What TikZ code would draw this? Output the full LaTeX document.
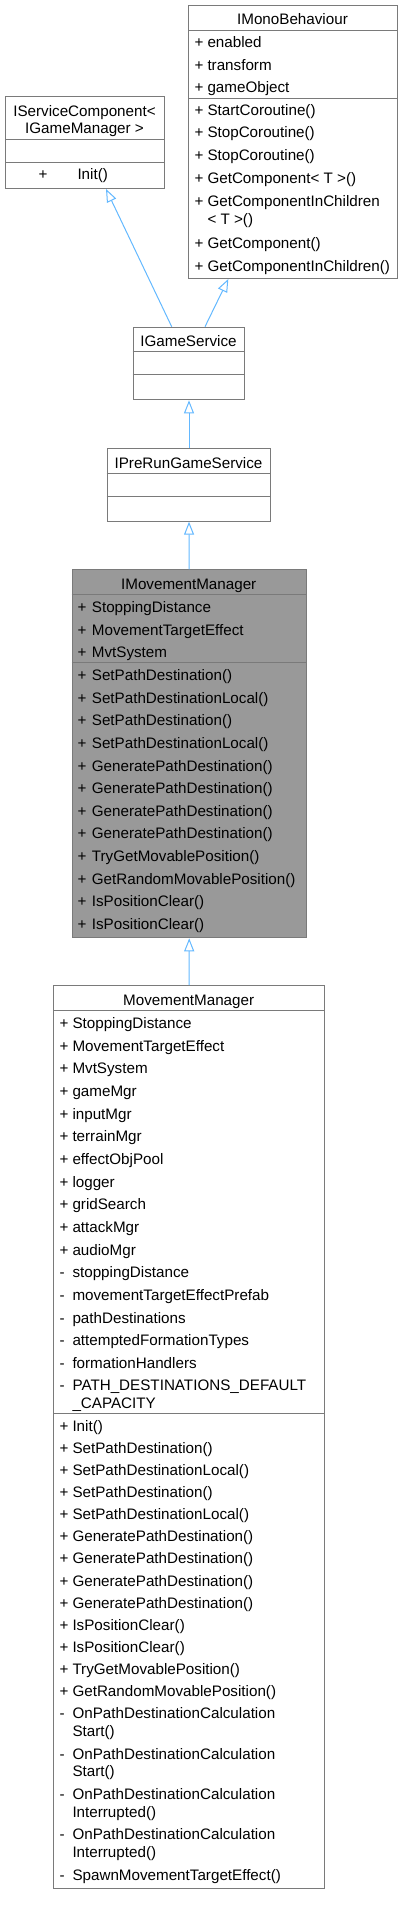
\documentclass[tikz,border=0pt]{standalone}
\usepackage{fontspec}
\setmainfont{Liberation Sans}
\usetikzlibrary{arrows.meta}
\definecolor{edgeblue}{HTML}{63B8FF}
\definecolor{bordgray}{HTML}{7A7A7A}
\definecolor{hlgray}{HTML}{999999}
\begin{document}
\begin{tikzpicture}[x=1pt,y=-1pt,
  umlbox/.style={draw=bordgray, line width=1pt, fill=white, inner sep=0pt, anchor=north west},
  sepline/.style={draw=bordgray, line width=1pt},
  txt/.style={inner sep=0pt, anchor=base west, font=\fontsize{15.2}{17.5}\selectfont},
  ttl/.style={inner sep=0pt, anchor=base, font=\fontsize{15.2}{17.5}\selectfont},
  inh/.style={draw=edgeblue, line width=1pt, -{Triangle[open, length=13pt, width=10pt, fill=white]}}
]
\useasboundingbox (0,0) rectangle (402,1905);

% ---------- IServiceComponent< IGameManager >
\node[umlbox, minimum width=159pt, minimum height=92pt] (isc) at (5,96) {};
\draw[sepline] (isc.west |- 0,140) -- (isc.east |- 0,140);
\draw[sepline] (isc.west |- 0,163) -- (isc.east |- 0,163);
\node[ttl] (isc-t1) at (84.5,117) {IServiceComponent<};
\node[ttl] (isc-t2) at (84.5,134) {IGameManager >};
\node[txt] (isc-m1) at (38.3,180) {+};
\node[txt] (isc-n1) at (77.3,180) {Init()};

% ---------- IMonoBehaviour
\node[umlbox, minimum width=209pt, minimum height=273pt] (imb) at (188,5) {};
\draw[sepline] (imb.west |- 0,31) -- (imb.east |- 0,31);
\draw[sepline] (imb.west |- 0,99) -- (imb.east |- 0,99);
\node[ttl] (imb-t) at (292.5,25) {IMonoBehaviour};
\foreach \y/\m/\t [count=\i] in {43/+/enabled, 66/+/transform, 88/+/gameObject,
   111/+/StartCoroutine(), 133/+/StopCoroutine(), 156/+/StopCoroutine(),
   179/+/GetComponent< T >(), 202/+/GetComponentInChildren, 219//< T >(),
   243/+/GetComponent(), 266/+/GetComponentInChildren()} {
  \node[txt] (imb-m\i) at (194.3,\y+5) {\m};
  \node[txt] (imb-n\i) at (207.3,\y+5) {\t};
}

% ---------- IGameService
\node[umlbox, minimum width=111.6pt, minimum height=72.6pt] (igs) at (132.7,326.7) {};
\draw[sepline] (igs.west |- 0,351.7) -- (igs.east |- 0,351.7);
\draw[sepline] (igs.west |- 0,374.3) -- (igs.east |- 0,374.3);
\node[ttl] (igs-t) at (188.5,346.7) {IGameService};

% ---------- IPreRunGameService
\node[umlbox, minimum width=163.6pt, minimum height=73pt] (iprg) at (106.7,447.7) {};
\draw[sepline] (iprg.west |- 0,473) -- (iprg.east |- 0,473);
\draw[sepline] (iprg.west |- 0,496) -- (iprg.east |- 0,496);
\node[ttl] (iprg-t) at (188.5,468) {IPreRunGameService};

% ---------- IMovementManager
\node[umlbox, fill=hlgray, minimum width=234pt, minimum height=368pt] (imm) at (71.7,569.3) {};
\draw[sepline] (imm.west |- 0,594.3) -- (imm.east |- 0,594.3);
\draw[sepline] (imm.west |- 0,662.7) -- (imm.east |- 0,662.7);
\node[ttl] (imm-t) at (188.7,589.3) {IMovementManager};
\foreach \y/\t [count=\i] in {607.7/StoppingDistance, 630/MovementTargetEffect, 652.3/MvtSystem,
   675.7/SetPathDestination(), 698.3/SetPathDestinationLocal(), 720.9/SetPathDestination(),
   743.5/SetPathDestinationLocal(), 766.1/GeneratePathDestination(), 788.7/GeneratePathDestination(),
   811.3/GeneratePathDestination(), 833.9/GeneratePathDestination(), 856.5/TryGetMovablePosition(),
   879.1/GetRandomMovablePosition(), 901.7/IsPositionClear(), 924.3/IsPositionClear()} {
  \node[txt] (imm-m\i) at (77.3,\y+5) {+};
  \node[txt] (imm-n\i) at (91.7,\y+5) {\t};
}

% ---------- MovementManager
\node[umlbox, minimum width=270.7pt, minimum height=902.7pt] (mm) at (53.3,985) {};
\draw[sepline] (mm.west |- 0,1010.7) -- (mm.east |- 0,1010.7);
\draw[sepline] (mm.west |- 0,1413.3) -- (mm.east |- 0,1413.3);
\node[ttl] (mm-t) at (188.7,1005.7) {MovementManager};
\foreach \y/\m/\t [count=\i] in {1023.3/+/StoppingDistance, 1046/+/MovementTargetEffect,
   1068.6/+/MvtSystem, 1091.3/+/gameMgr, 1114/+/inputMgr, 1136.6/+/terrainMgr,
   1159.3/+/effectObjPool, 1182/+/logger, 1204.6/+/gridSearch, 1227.3/+/attackMgr,
   1250/+/audioMgr, 1272.6/-/stoppingDistance, 1295.3/-/movementTargetEffectPrefab,
   1318/-/pathDestinations, 1340.6/-/attemptedFormationTypes, 1363.3/-/formationHandlers,
   1385.5/-/PATH\_DESTINATIONS\_DEFAULT, 1403//\_CAPACITY,
   1426/+/Init(), 1448.1/+/SetPathDestination(), 1470.3/+/SetPathDestinationLocal(),
   1492.4/+/SetPathDestination(), 1514.6/+/SetPathDestinationLocal(),
   1536.7/+/GeneratePathDestination(), 1558.8/+/GeneratePathDestination(),
   1581/+/GeneratePathDestination(), 1603.1/+/GeneratePathDestination(),
   1625.3/+/IsPositionClear(), 1647.4/+/IsPositionClear(), 1669.5/+/TryGetMovablePosition(),
   1691.7/+/GetRandomMovablePosition(),
   1713.3/-/OnPathDestinationCalculation, 1731//Start(),
   1754.3/-/OnPathDestinationCalculation, 1771.7//Start(),
   1794.3/-/OnPathDestinationCalculation, 1812//Interrupted(),
   1834.3/-/OnPathDestinationCalculation, 1852.3//Interrupted(),
   1875.7/-/SpawnMovementTargetEffect()} {
  \node[txt] (mm-m\i) at (59.5,\y+5) {\m};
  \node[txt] (mm-n\i) at (72.3,\y+5) {\t};
}

% ---------- inheritance connectors
\draw[inh] (mm.north) -- (imm.south);
\draw[inh] (imm.north) -- (iprg.south);
\draw[inh] (iprg.north) -- (igs.south);
\draw[inh] ([xshift=39pt]igs.north west) -- ([xshift=101pt]isc.south west);
\draw[inh] ([xshift=72.3pt]igs.north west) -- ([xshift=40.3pt]imb.south west);
\end{tikzpicture}
\end{document}
